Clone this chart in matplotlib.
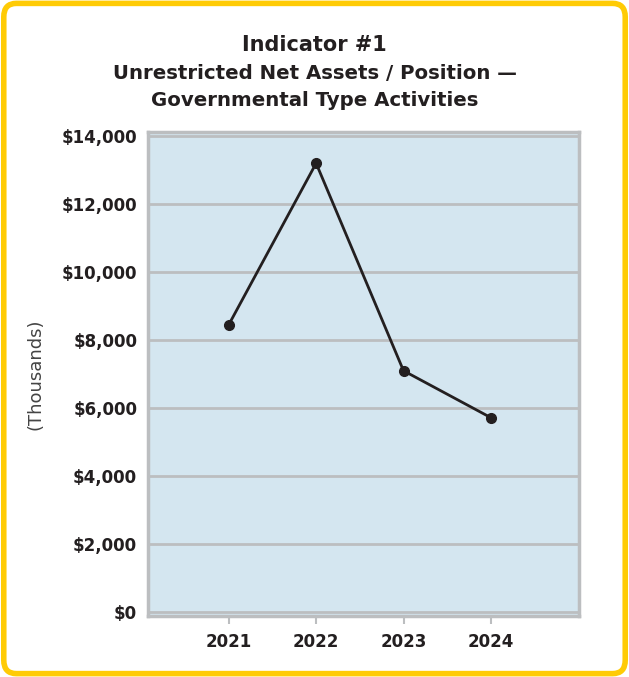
import matplotlib
matplotlib.use("Agg")
import matplotlib.pyplot as plt
from matplotlib.patches import FancyBboxPatch
from matplotlib.ticker import FuncFormatter

# Chart data (thousands of dollars)
years = ["2021", "2022", "2023", "2024"]
net_assets = [8450, 13200, 7100, 5720]
y_ticks = [0, 2000, 4000, 6000, 8000, 10000, 12000, 14000]

TEXT = "#231f20"
GRID = "#bcbec0"
FACE = "#d4e6f0"
GOLD = "#ffcb05"

plt.rcParams['font.family'] = ['DejaVu Sans']

fig = plt.figure(figsize=(6.29, 6.77), dpi=100)

# Yellow rounded frame
frame = FancyBboxPatch((0.006, 0.005), 0.988, 0.99,
                       boxstyle="round,pad=0,rounding_size=0.02",
                       transform=fig.transFigure, facecolor="white",
                       edgecolor=GOLD, linewidth=4, zorder=-10)
fig.patches.append(frame)

ax = fig.add_axes([0.2358, 0.0901, 0.685, 0.7145])
ax.set_facecolor(FACE)

x = list(range(len(years)))
ax.plot(x, net_assets, color=TEXT, linewidth=2, marker="o",
        markersize=7, zorder=3)

ax.set_xlim(-0.92, 4.01)
ax.set_ylim(-110, 14110)
ax.set_xticks(x)
ax.set_xticklabels(years)
ax.set_yticks(y_ticks)
ax.yaxis.set_major_formatter(FuncFormatter(lambda v, p: f"${v:,.0f}"))

ax.grid(axis="y", color=GRID, linewidth=2)
ax.set_axisbelow(True)
for s in ax.spines.values():
    s.set_color(GRID)
    s.set_linewidth(2.5)

ax.tick_params(axis="y", length=0, pad=8, labelsize=12, labelcolor=TEXT)
ax.tick_params(axis="x", length=6, width=1.5, color=GRID, pad=6,
               labelsize=12, labelcolor=TEXT)
for lab in ax.get_xticklabels() + ax.get_yticklabels():
    lab.set_fontweight("bold")

ax.set_ylabel("(Thousands)", fontsize=13, color="#444444",
              fontweight="normal", labelpad=12)

fig.text(0.5, 0.934, "Indicator #1", ha="center", va="center",
         fontsize=15, fontweight="bold", color=TEXT)
fig.text(0.5, 0.891, "Unrestricted Net Assets / Position \u2014",
         ha="center", va="center", fontsize=14.2, fontweight="bold",
         color=TEXT)
fig.text(0.5, 0.851, "Governmental Type Activities",
         ha="center", va="center", fontsize=14.2, fontweight="bold",
         color=TEXT)

fig.savefig("out.png", dpi=100)
